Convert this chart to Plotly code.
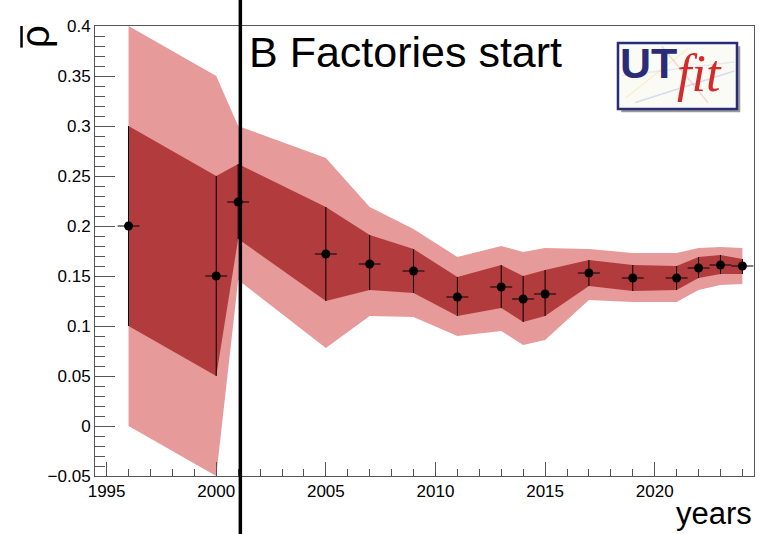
import plotly.graph_objects as go

# Fit results for rho-bar by year
years = [1996, 2000, 2001, 2005, 2007, 2009, 2011, 2013, 2014, 2015,
         2017, 2019, 2021, 2022, 2023, 2024]
rho = [0.200, 0.150, 0.224, 0.172, 0.162, 0.155, 0.129, 0.139, 0.127, 0.132,
       0.153, 0.148, 0.148, 0.158, 0.161, 0.160]
# 68% probability interval
inner_hi = [0.300, 0.250, 0.262, 0.219, 0.191, 0.177, 0.149, 0.161, 0.150, 0.156,
            0.166, 0.161, 0.160, 0.169, 0.171, 0.167]
inner_lo = [0.100, 0.050, 0.187, 0.125, 0.136, 0.133, 0.110, 0.118, 0.104, 0.110,
            0.140, 0.135, 0.136, 0.148, 0.152, 0.152]
# 95% probability interval
outer_hi = [0.400, 0.350, 0.300, 0.268, 0.219, 0.197, 0.169, 0.180, 0.174, 0.178,
            0.177, 0.173, 0.173, 0.178, 0.179, 0.178]
outer_lo = [0.000, -0.050, 0.146, 0.078, 0.110, 0.109, 0.090, 0.095, 0.081, 0.086,
            0.126, 0.124, 0.124, 0.136, 0.141, 0.142]
year_halfwidth = 0.5
b_factories_year = 2001.1

DARK = "#b23c3d"
LIGHT = "#e79a9a"
FRAME = "#555555"
FONT = "Liberation Sans"

fig = go.Figure()

fig.add_trace(go.Scatter(
    x=years + years[::-1], y=outer_hi + outer_lo[::-1],
    fill="toself", fillcolor=LIGHT, line=dict(width=0),
    mode="lines", hoverinfo="skip", showlegend=False))
fig.add_trace(go.Scatter(
    x=years + years[::-1], y=inner_hi + inner_lo[::-1],
    fill="toself", fillcolor=DARK, line=dict(width=0),
    mode="lines", hoverinfo="skip", showlegend=False))

fig.add_trace(go.Scatter(
    x=years, y=rho, mode="markers",
    marker=dict(color="black", size=9),
    error_y=dict(type="data", symmetric=False,
                 array=[h - r for h, r in zip(inner_hi, rho)],
                 arrayminus=[r - l for l, r in zip(inner_lo, rho)],
                 color="black", thickness=1, width=0),
    error_x=dict(type="constant", value=year_halfwidth,
                 color="black", thickness=1, width=0),
    showlegend=False))

# Start of the B factories
fig.add_shape(type="line", xref="x", yref="paper",
              x0=b_factories_year, x1=b_factories_year, y0=-0.2, y1=1.2,
              line=dict(color="black", width=3.5), layer="above")

# UTfit logo
lx0, lx1, ly0, ly1 = 0.7936, 0.9742, 0.8156, 0.9622
fig.add_shape(type="rect", xref="paper", yref="paper",
              x0=lx0 + 0.005, x1=lx1 + 0.005, y0=ly0 - 0.007, y1=ly1 - 0.007,
              fillcolor="#9a9a9a", line=dict(width=0), layer="above")
fig.add_shape(type="rect", xref="paper", yref="paper",
              x0=lx0, x1=lx1, y0=ly0, y1=ly1,
              fillcolor="#fbfbf6", line=dict(color="#2a2c78", width=2.5),
              layer="above")
for (ax0, ay0, ax1, ay1, col) in [
        (0.805, 0.84, 0.90, 0.95, "rgba(240,220,120,0.35)"),
        (0.82, 0.83, 0.97, 0.90, "rgba(150,160,220,0.35)"),
        (0.86, 0.955, 0.93, 0.83, "rgba(230,150,180,0.35)"),
        (0.80, 0.89, 0.97, 0.92, "rgba(200,200,220,0.35)")]:
    fig.add_shape(type="line", xref="paper", yref="paper",
                  x0=ax0, y0=ay0, x1=ax1, y1=ay1,
                  line=dict(color=col, width=1.5), layer="above")
fig.add_annotation(xref="paper", yref="paper", x=0.840, y=0.918,
                   text="<b>UT</b>", showarrow=False,
                   font=dict(family=FONT, size=43, color="#2a2c78"),
                   xanchor="center", yanchor="middle")
fig.add_annotation(xref="paper", yref="paper", x=0.918, y=0.895,
                   text="<i>fit</i>", showarrow=False,
                   font=dict(family="Liberation Serif", size=52, color="#d42a2a"),
                   xanchor="center", yanchor="middle")

fig.add_annotation(xref="paper", yref="paper", x=0.231, y=0.943,
                   text="B Factories start", showarrow=False,
                   font=dict(family=FONT, size=43, color="black"),
                   xanchor="left", yanchor="middle")
fig.add_annotation(xref="paper", yref="paper", x=1.0, y=-0.083,
                   text="years", showarrow=False,
                   font=dict(family=FONT, size=31, color="black"),
                   xanchor="right", yanchor="middle")
# y-axis title: rho with an overbar, reading upward
fig.add_annotation(xref="paper", yref="paper", x=-0.090, y=0.977,
                   text="\u03c1", showarrow=False, textangle=-90,
                   font=dict(family=FONT, size=40, color="black"),
                   xanchor="center", yanchor="middle")
fig.add_shape(type="line", xref="paper", yref="paper",
              x0=-0.1115, x1=-0.1115, y0=0.952, y1=1.0,
              line=dict(color="black", width=2.5))

fig.update_xaxes(range=[1994.47, 2024.53], tick0=1995, dtick=5,
                 ticks="inside", ticklen=14, tickwidth=1, tickcolor=FRAME,
                 minor=dict(dtick=1, ticks="inside", ticklen=7, tickcolor=FRAME),
                 showline=True, linecolor=FRAME, linewidth=1, mirror=True,
                 showgrid=False, zeroline=False,
                 tickfont=dict(family=FONT, size=17, color="black"))
fig.update_yaxes(range=[-0.05, 0.4], tick0=0, dtick=0.05,
                 ticks="inside", ticklen=20, tickwidth=1, tickcolor=FRAME,
                 minor=dict(dtick=0.01, ticks="inside", ticklen=10, tickcolor=FRAME),
                 showline=True, linecolor=FRAME, linewidth=1, mirror=True,
                 showgrid=False, zeroline=False,
                 tickfont=dict(family=FONT, size=17, color="black"))

fig.update_layout(width=761, height=534,
                  margin=dict(l=95, r=7, t=26, b=58),
                  paper_bgcolor="white", plot_bgcolor="white",
                  font=dict(family=FONT))

fig.write_html("out.html")
